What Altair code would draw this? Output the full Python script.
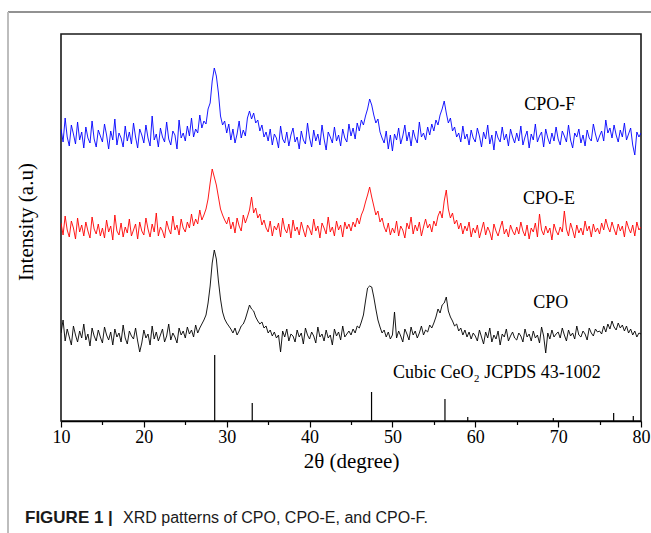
import altair as alt
import pandas as pd

# 2-theta sampling grid (degrees), 0.25 deg step from 10 to 80
two_theta = [10 + 0.25 * i for i in range(281)]

cpo_f = [
    292, 279, 303, 284, 275, 296, 287, 277, 299, 281, 289, 273, 294, 283, 278, 300, 282, 274, 291, 285,
    279, 297, 286, 272, 290, 281, 302, 276, 288, 283, 274, 295, 280, 289, 277, 298, 284, 273, 292, 286,
    278, 296, 283, 275, 305, 281, 287, 274, 293, 284, 279, 299, 282, 276, 290, 286, 272, 301, 283, 288,
    280, 295, 285, 303, 284, 292, 288, 306, 293, 300, 297, 312, 318, 340, 353, 345, 328, 305, 296, 300,
    288, 297, 281, 292, 278, 287, 300, 283, 291, 285, 303, 310, 302, 308, 298, 301, 290, 296, 284, 289,
    280, 292, 276, 287, 283, 273, 295, 282, 278, 289, 275, 286, 293, 279, 284, 272, 290, 281, 277, 298,
    283, 274, 291, 280, 287, 276, 296, 282, 271, 289, 284, 278, 294, 280, 286, 275, 292, 283, 279, 297,
    285, 293, 282, 298, 290, 301, 296, 305, 312, 322, 316, 306, 298, 302, 289, 283, 278, 290, 272, 286,
    270, 287, 281, 293, 277, 285, 296, 280, 289, 275, 291, 283, 278, 299, 284, 288, 281, 294, 286, 297,
    290, 301, 296, 306, 312, 320, 308, 298, 303, 290, 294, 284, 288, 279, 295, 282, 287, 276, 291, 283,
    279, 293, 285, 274, 289, 282, 296, 277, 286, 271, 290, 283, 279, 294, 281, 287, 275, 292, 284, 278,
    288, 280, 295, 276, 284, 290, 273, 287, 281, 297, 279, 285, 289, 274, 292, 283, 277, 288, 280, 294,
    282, 276, 290, 285, 279, 296, 281, 273, 288, 284, 292, 278, 286, 275, 291, 283, 280, 297, 287, 279,
    285, 290, 280, 301, 288, 293, 283, 296, 286, 279, 291, 284, 298, 281, 287, 293, 276, 266, 289, 284,
    288,
]

cpo_e = [
    198, 186, 205, 191, 184, 200, 193, 182, 203, 189, 196, 185, 199, 190, 183, 204, 192, 187, 197, 185,
    193, 183, 201, 189, 195, 181, 206, 190, 186, 198, 184, 194, 188, 202, 185, 191, 197, 182, 199, 190,
    186, 203, 192, 184, 197, 189, 208, 185, 194, 190, 183, 200, 192, 187, 205, 191, 196, 186, 202, 193,
    189, 199, 193, 207, 195, 202, 197, 211, 201, 206, 212, 222, 238, 252, 244, 236, 224, 212, 206, 201,
    197, 204, 192, 199, 188, 203, 195, 190, 206, 198, 204, 211, 224, 208, 213, 203, 207, 196, 201, 193,
    189, 200, 185, 195, 191, 198, 184, 203, 192, 188, 197, 183, 201, 190, 194, 186, 199, 191, 184, 196,
    192, 186, 202, 190, 195, 183, 198, 193, 187, 204, 189, 194, 185, 200, 191, 196, 184, 199, 192, 197,
    190, 199, 194, 203, 197, 206, 211, 219, 226, 234, 224, 215, 206, 210, 199, 203, 194, 189, 198, 186,
    193, 188, 200, 185, 195, 191, 183, 198, 192, 204, 187, 196, 190, 199, 185, 194, 202, 193, 197, 189,
    200, 195, 205, 210, 203, 220, 231, 212, 203, 208, 197, 201, 192, 198, 187, 195, 190, 199, 184, 193,
    188, 196, 183, 191, 199, 186, 194, 189, 181, 197, 190, 185, 193, 200, 187, 192, 184, 196, 190, 186,
    194, 187, 199, 190, 185, 196, 182, 193, 189, 198, 184, 207, 191, 186, 195, 188, 193, 181, 197, 190,
    186, 194, 189, 210, 192, 185, 198, 191, 183, 196, 188, 193, 186, 200, 190, 195, 184, 197, 189, 193,
    187, 198, 191, 202, 194, 189, 199, 192, 186, 197, 190, 195, 184, 200, 193, 188, 196, 185, 199, 191,
    194,
]

cpo = [
    88, 101, 80, 92, 84, 76, 95, 86, 79, 90, 83, 97, 81, 87, 75, 93, 85, 80, 91, 84,
    78, 94, 86, 81, 89, 76, 92, 84, 88, 79, 96, 83, 77, 90, 85, 82, 93, 80, 69, 78,
    91, 83, 87, 76, 95, 82, 89, 80, 86, 92, 79, 85, 97, 81, 88, 84, 78, 93, 86, 90,
    83, 94, 87, 91, 84, 96, 88, 93, 97, 101, 106, 118, 135, 158, 171, 162, 140, 122, 109, 102,
    98, 95, 92, 88, 93, 86, 90, 95, 97, 102, 109, 116, 112, 110, 104, 100, 97, 99, 93, 95,
    88, 91, 85, 89, 83, 86, 69, 90, 84, 92, 80, 87, 85, 79, 91, 84, 88, 77, 93, 86,
    82, 89, 85, 78, 94, 84, 87, 80, 91, 83, 86, 76, 92, 85, 89, 81, 95, 84, 87, 90,
    86, 92, 88, 95, 93, 99, 106, 120, 133, 135, 134, 124, 112, 101, 94, 88, 91, 84, 89, 82,
    86, 109, 83, 90, 85, 79, 92, 87, 81, 94, 86, 90, 83, 88, 95, 86, 91, 89, 96, 93,
    98, 104, 112, 108, 116, 118, 124, 110, 104, 100, 95, 97, 90, 93, 86, 91, 84, 89, 82, 88,
    85, 80, 91, 84, 77, 89, 83, 93, 79, 86, 82, 90, 76, 87, 84, 92, 80, 85, 89, 83,
    81, 88, 85, 79, 92, 84, 87, 80, 90, 83, 86, 78, 94, 85, 68, 88, 82, 91, 84, 87,
    89, 83, 93, 86, 80, 91, 85, 88, 82, 95, 86, 84, 90, 87, 81, 93, 88, 85, 92, 89,
    90, 87, 95, 89, 97, 92, 100, 94, 91, 98, 93, 96, 90, 95, 88, 92, 86, 90, 84, 88,
    87,
]

# JCPDS 43-1002 reference lines
ref_pos = [28.55, 33.08, 47.48, 56.34, 59.09, 69.42, 76.70, 79.07]
ref_int = [66, 18, 29, 22, 4, 3, 8, 5]

samples = ["CPO-F", "CPO-E", "CPO"]
sample_colors = ["#0000ff", "#ff0000", "#000000"]

label_text = ["CPO-F", "CPO-E", "CPO", "Cubic CeO\u2082 JCPDS 43-1002"]
label_x = [69.0, 68.9, 69.1, 62.6]
label_y = [316, 222, 118, 48]

major_ticks = [10, 20, 30, 40, 50, 60, 70, 80]
minor_ticks = [15, 25, 35, 45, 55, 65, 75]

rows = []
for name, series in zip(samples, [cpo_f, cpo_e, cpo]):
    for t, v in zip(two_theta, series):
        rows.append({"theta": t, "intensity": v, "sample": name})
df = pd.DataFrame(rows)
ref_df = pd.DataFrame({"theta": ref_pos, "intensity": ref_int})
lab_df = pd.DataFrame({"theta": label_x, "intensity": label_y, "label": label_text})

xscale = alt.Scale(domain=[10, 80], nice=False, zero=False)
yscale = alt.Scale(domain=[0, 387], nice=False, zero=False)

lines = alt.Chart(df).mark_line(strokeWidth=0.9, clip=True).encode(
    x=alt.X("theta:Q", scale=xscale,
            axis=alt.Axis(values=major_ticks, tickSize=6, tickWidth=1.2, domainWidth=1.5,
                          labelFontSize=18, titleFontSize=21, titleFontWeight="normal",
                          labelPadding=1, titlePadding=4, labelFlush=False,
                          orient="bottom", title="2\u03b8 (degree)")),
    y=alt.Y("intensity:Q", scale=yscale, axis=None),
    color=alt.Color("sample:N", scale=alt.Scale(domain=samples, range=sample_colors), legend=None),
    detail="sample:N",
)

sticks = alt.Chart(ref_df).mark_rule(color="black", strokeWidth=1.2).encode(
    x=alt.X("theta:Q", scale=xscale,
            axis=alt.Axis(values=minor_ticks, tickSize=3.5, tickWidth=1.2, labels=False,
                          domain=False, title=None, orient="bottom")),
    y=alt.Y("intensity:Q", scale=yscale, axis=None),
    y2=alt.datum(0),
)

labels = alt.Chart(lab_df).mark_text(font="Liberation Serif", fontSize=18, color="black",
                                     align="center", baseline="middle").encode(
    x=alt.X("theta:Q", scale=xscale, axis=None),
    y=alt.Y("intensity:Q", scale=yscale, axis=None),
    text="label:N",
)

y_title = alt.Chart(pd.DataFrame({"t": ["Intensity (a.u)"]})).mark_text(
    font="Liberation Serif", fontSize=21, color="black", angle=270,
    align="center", baseline="middle").encode(text="t:N", x=alt.value(-34), y=alt.value(188))

frame_top = alt.Chart(pd.DataFrame({"k": [0]})).mark_rule(color="#6e6e6e", strokeWidth=1.6).encode(
    x=alt.value(-53), x2=alt.value(600), y=alt.value(-22))
frame_left = alt.Chart(pd.DataFrame({"k": [0]})).mark_rule(color="#bdbdbd", strokeWidth=2).encode(
    x=alt.value(-53), y=alt.value(-22), y2=alt.value(510))

cap_bold = alt.Chart(pd.DataFrame({"t": ["FIGURE 1 |"]})).mark_text(
    font="Liberation Sans", fontWeight="bold", fontSize=17, align="left", baseline="middle",
    color="#1a1a1a").encode(text="t:N", x=alt.value(-36), y=alt.value(484))
cap_reg = alt.Chart(pd.DataFrame({"t": ["XRD patterns of CPO, CPO-E, and CPO-F."]})).mark_text(
    font="Liberation Sans", fontSize=16, align="left", baseline="middle",
    color="#1a1a1a").encode(text="t:N", x=alt.value(62), y=alt.value(484))

chart = alt.layer(lines, sticks, labels, y_title, frame_top, frame_left, cap_bold, cap_reg).resolve_axis(
    x="independent"
).properties(
    width=580, height=387,
    padding={"left": 61, "top": 34, "right": 10, "bottom": 112},
    autosize=alt.AutoSizeParams(type="none"),
    background="white",
).configure_view(
    stroke="#1a1a1a", strokeWidth=1.6
).configure_axis(
    labelFont="Liberation Serif", titleFont="Liberation Serif",
    labelColor="black", titleColor="black", domainColor="black", tickColor="black", grid=False,
)

chart.save("out.html", embed_options={"renderer": "svg", "actions": False})
